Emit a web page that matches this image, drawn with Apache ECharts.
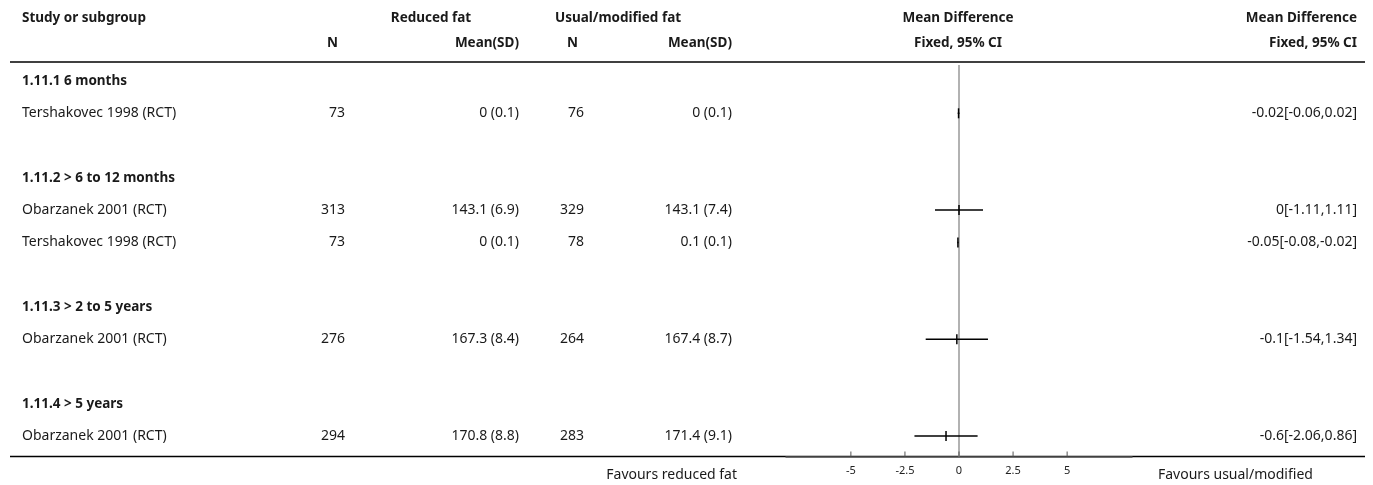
<!DOCTYPE html>
<html><head><meta charset="utf-8">
<script src="https://cdn.jsdelivr.net/npm/echarts@6/dist/echarts.min.js"></script>
<style>html,body{margin:0;padding:0;background:#fff}#c{width:1373px;height:485px}</style>
</head><body><div id="c"></div>
<script>
// ---- data ----
const subgroups = ['1.11.1 6 months', '1.11.2 > 6 to 12 months', '1.11.3 > 2 to 5 years', '1.11.4 > 5 years'];
const studies = ['Tershakovec 1998 (RCT)', 'Obarzanek 2001 (RCT)', 'Tershakovec 1998 (RCT)', 'Obarzanek 2001 (RCT)', 'Obarzanek 2001 (RCT)'];
const studyGroup = [0, 1, 1, 2, 3];
const reducedN = [73, 313, 73, 276, 294];
const reducedMeanSD = ['0 (0.1)', '143.1 (6.9)', '0 (0.1)', '167.3 (8.4)', '170.8 (8.8)'];
const usualN = [76, 329, 78, 264, 283];
const usualMeanSD = ['0 (0.1)', '143.1 (7.4)', '0.1 (0.1)', '167.4 (8.7)', '171.4 (9.1)'];
const meanDiff = [-0.02, 0, -0.05, -0.1, -0.6];
const ciLow = [-0.06, -1.11, -0.08, -1.54, -2.06];
const ciHigh = [0.02, 1.11, -0.02, 1.34, 0.86];
const mdText = ['-0.02[-0.06,0.02]', '0[-1.11,1.11]', '-0.05[-0.08,-0.02]', '-0.1[-1.54,1.34]', '-0.6[-2.06,0.86]'];
const xTicks = [-5, -2.5, 0, 2.5, 5];
const xMin = -8, xMax = 8;
const favoursLeft = 'Favours reduced fat';
const favoursRight = 'Favours usual/modified';

// ---- layout ----
const FONT = '"Noto Sans", sans-serif';
const FS = 14, FSB = 13.5;
const COL = { name: 22, rN: 345, rM: 519, uN: 584, uM: 732, md: 1357 };

const rows = [];
subgroups.forEach((s, g) => {
  rows.push({ kind: 'group', text: s });
  studyGroup.forEach((sg, i) => { if (sg === g) rows.push({ kind: 'study', i }); });
  if (g < subgroups.length - 1) rows.push({ kind: 'blank' });
});

const yMin = -0.5, yMax = 11.635;
const gridTop = 64.9, gridBottom = 28.5;

const tableData = rows.map((r, idx) => [idx, r.kind === 'group' ? 1 : (r.kind === 'study' ? 2 : 0), r.kind === 'study' ? r.i : -1, r.kind === 'group' ? subgroups.indexOf(r.text) : -1]);
const forestData = [];
rows.forEach((r, idx) => { if (r.kind === 'study') forestData.push([meanDiff[r.i], ciLow[r.i], ciHigh[r.i], idx]); });

function txt(x, y, text, align, bold) {
  return { type: 'text', style: { x, y, text, textAlign: align, textVerticalAlign: 'middle', font: (bold ? 'bold ' + FSB : FS) + 'px ' + FONT, fill: '#1a1a1a' } };
}

const chart = echarts.init(document.getElementById('c'));
const hY1 = 18, hY2 = 43;
chart.setOption({
  animation: false,
  grid: [
    { left: 0, right: 0, top: gridTop, bottom: gridBottom },
    { left: 786, right: 1373 - 1132, top: gridTop, bottom: gridBottom }
  ],
  xAxis: [
    { gridIndex: 0, type: 'value', min: 0, max: 1373, show: false },
    { gridIndex: 1, type: 'value', min: xMin, max: xMax, position: 'bottom',
      axisLine: { show: true, onZero: false, lineStyle: { color: '#555', width: 1.5 } },
      axisTick: { show: false },
      axisLabel: { show: true, customValues: xTicks, fontSize: 11, color: '#222', margin: 9, fontFamily: FONT },
      splitLine: { show: false } }
  ],
  yAxis: [
    { gridIndex: 0, type: 'value', min: yMin, max: yMax, inverse: true, show: false },
    { gridIndex: 1, type: 'value', min: yMin, max: yMax, inverse: true, show: false }
  ],
  graphic: [
    { type: 'line', shape: { x1: 10, y1: 62, x2: 1365, y2: 62 }, style: { stroke: '#000', lineWidth: 1.5 }, z: -1 },
    { type: 'line', shape: { x1: 10, y1: 456.5, x2: 1365, y2: 456.5 }, style: { stroke: '#000', lineWidth: 1.5 }, z: -1 },
    txt(22, hY1, 'Study or subgroup', 'left', true),
    txt(431, hY1, 'Reduced fat', 'center', true),
    txt(618, hY1, 'Usual/modified fat', 'center', true),
    txt(958, hY1, 'Mean Difference', 'center', true),
    txt(1357, hY1, 'Mean Difference', 'right', true),
    txt(338, hY2, 'N', 'right', true),
    txt(519, hY2, 'Mean(SD)', 'right', true),
    txt(578, hY2, 'N', 'right', true),
    txt(732, hY2, 'Mean(SD)', 'right', true),
    txt(958, hY2, 'Fixed, 95% CI', 'center', true),
    txt(1357, hY2, 'Fixed, 95% CI', 'right', true),
    txt(737, 475, favoursLeft, 'right', false),
    txt(1158, 475, favoursRight, 'left', false)
  ],
  series: [
    { type: 'custom', xAxisIndex: 0, yAxisIndex: 0, data: tableData, silent: true,
      renderItem: function (params, api) {
        const row = api.value(0), kind = api.value(1), i = api.value(2), g = api.value(3);
        const y = api.coord([0, row])[1];
        const X = k => api.coord([COL[k], row])[0];
        if (kind === 1) return { type: 'group', children: [txt(X('name'), y, subgroups[g], 'left', true)] };
        if (kind === 2) return { type: 'group', children: [
          txt(X('name'), y, studies[i], 'left', false),
          txt(X('rN'), y, String(reducedN[i]), 'right', false),
          txt(X('rM'), y, reducedMeanSD[i], 'right', false),
          txt(X('uN'), y, String(usualN[i]), 'right', false),
          txt(X('uM'), y, usualMeanSD[i], 'right', false),
          txt(X('md'), y, mdText[i], 'right', false)
        ] };
        return { type: 'group', children: [] };
      }
    },
    { type: 'custom', xAxisIndex: 1, yAxisIndex: 1, data: xTicks.map(v => [v]), silent: true, z: 6,
      renderItem: function (params, api) {
        const p = api.coord([api.value(0), yMax]);
        return { type: 'line', shape: { x1: p[0], y1: p[1], x2: p[0], y2: p[1] - 5 }, style: { stroke: '#555', lineWidth: 1 } };
      }
    },
    { type: 'custom', xAxisIndex: 1, yAxisIndex: 1, data: forestData, silent: true, z: 5,
      renderItem: function (params, api) {
        const md = api.value(0), lo = api.value(1), hi = api.value(2), row = api.value(3);
        const p1 = api.coord([lo, row]), p2 = api.coord([hi, row]), pm = api.coord([md, row]);
        return { type: 'group', children: [
          { type: 'line', shape: { x1: p1[0], y1: p1[1], x2: p2[0], y2: p2[1] }, style: { stroke: '#000', lineWidth: 1.5 } },
          { type: 'line', shape: { x1: pm[0], y1: pm[1] - 5, x2: pm[0], y2: pm[1] + 5 }, style: { stroke: '#000', lineWidth: 1.5 } }
        ] };
      },
      markLine: { silent: true, symbol: 'none', label: { show: false }, lineStyle: { color: '#999', type: 'solid', width: 1.5 }, data: [{ xAxis: 0 }], z: 1 }
    }
  ]
});
</script></body></html>
